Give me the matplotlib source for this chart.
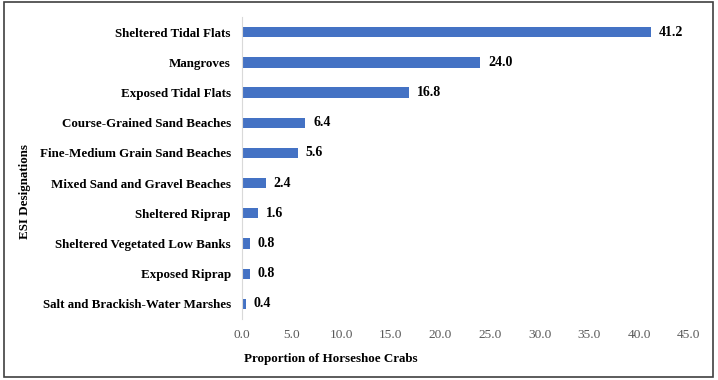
import matplotlib.pyplot as plt
from matplotlib.patches import Rectangle

categories = [
    "Sheltered Tidal Flats",
    "Mangroves",
    "Exposed Tidal Flats",
    "Course-Grained Sand Beaches",
    "Fine-Medium Grain Sand Beaches",
    "Mixed Sand and Gravel Beaches",
    "Sheltered Riprap",
    "Sheltered Vegetated Low Banks",
    "Exposed Riprap",
    "Salt and Brackish-Water Marshes",
]
values = [41.2, 24.0, 16.8, 6.4, 5.6, 2.4, 1.6, 0.8, 0.8, 0.4]
x_ticks = [0, 5, 10, 15, 20, 25, 30, 35, 40, 45]

plt.rcParams["font.family"] = ["Liberation Serif", "DejaVu Serif"]

fig = plt.figure(figsize=(7.18, 3.8), dpi=100)
ax = fig.add_axes([0.337, 0.1605, 0.622, 0.7945])

ypos = list(range(len(categories)))
ax.barh(ypos, values, height=0.34, color="#4472C4")
ax.set_ylim(len(categories) - 0.5, -0.5)
ax.set_xlim(0, 45)

for y, v in zip(ypos, values):
    ax.text(v + 0.8, y, f"{v:.1f}", va="center", ha="left",
            fontsize=10, fontweight="bold", color="#000000")

ax.set_yticks(ypos)
ax.set_yticklabels(categories, fontsize=9.4, fontweight="bold")
ax.set_xticks(x_ticks)
ax.set_xticklabels([f"{t:.1f}" for t in x_ticks], fontsize=9.6, color="#595959")
ax.tick_params(axis="both", length=0)
ax.tick_params(axis="y", pad=8)
ax.tick_params(axis="x", pad=7)

for s in ["top", "right", "bottom"]:
    ax.spines[s].set_visible(False)
ax.spines["left"].set_color("#d9d9d9")

fig.text(0.34, 0.055, "Proportion of Horseshoe Crabs", fontsize=9.4,
         fontweight="bold", ha="left", va="center")
fig.text(0.035, 0.497, "ESI Designations", fontsize=9.4, fontweight="bold",
         rotation=90, ha="center", va="center")

fig.patches.append(Rectangle((0.005, 0.008), 0.988, 0.986, transform=fig.transFigure,
                             fill=False, edgecolor="#404040", linewidth=1.2))

fig.savefig("out.png", dpi=100)
